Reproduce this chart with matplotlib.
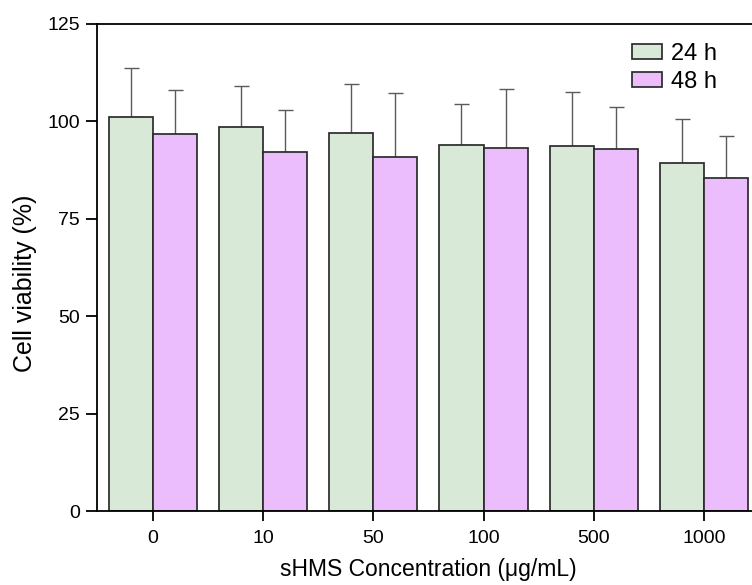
import matplotlib
matplotlib.use("Agg")
import matplotlib.pyplot as plt
import numpy as np

plt.rcParams['font.family'] = ['Liberation Sans', 'DejaVu Sans']

categories = ["0", "10", "50", "100", "500", "1000"]
series_names = ["24 h", "48 h"]
mean_24h = [101.2, 98.6, 97.1, 94.0, 93.8, 89.4]
err_24h = [12.6, 10.5, 12.5, 10.4, 13.8, 11.2]
mean_48h = [96.8, 92.1, 90.9, 93.2, 92.8, 85.6]
err_48h = [11.3, 10.9, 16.5, 15.0, 10.9, 10.6]
y_ticks = [0, 25, 50, 75, 100, 125]

colors = ["#d9e9d7", "#ecbdfd"]
edge = "#2b2b2b"
errc = "#5a5a5a"

fig = plt.figure(figsize=(7.52, 5.85), dpi=100)
ax = fig.add_axes([97.5 / 752, 74 / 585, 661.8 / 752, 487 / 585])

x = np.arange(len(categories))
w = 0.4
for i, (m, e) in enumerate([(mean_24h, err_24h), (mean_48h, err_48h)]):
    pos = x - w / 2 + i * w
    ax.bar(pos, m, width=w, color=colors[i], edgecolor=edge, linewidth=1.25,
           label=series_names[i], zorder=2)
    ax.errorbar(pos, m, yerr=[np.zeros(len(e)), e], fmt='none', ecolor=errc,
                elinewidth=1.0, capsize=5.4, capthick=1.0, zorder=1)

ax.set_xlim(-0.5, len(categories) - 0.5)
ax.set_ylim(0, 125)
ax.set_yticks(y_ticks)
ax.set_xticks(x)
ax.set_xticklabels(categories)
ax.tick_params(axis='both', direction='out', labelsize=14, width=1.3, color='black')
ax.tick_params(axis='y', length=8, pad=4.5)
ax.tick_params(axis='x', length=7.5, pad=6)
for s in ['left', 'bottom', 'top']:
    ax.spines[s].set_linewidth(1.3)
    ax.spines[s].set_color('black')
ax.spines['right'].set_visible(False)

ax.set_xlabel("sHMS Concentration (μg/mL)", fontsize=16.5, labelpad=8)
ax.set_ylabel("Cell viability (%)", fontsize=18, va='center')
ax.yaxis.set_label_coords(-0.1095, 0.467)

leg = ax.legend(loc='upper left', bbox_to_anchor=(0.8077, 0.962), frameon=False,
                fontsize=17, handlelength=1.27, handleheight=0.6, handletextpad=0.38,
                labelspacing=0.27, borderpad=0, borderaxespad=0)
for h in leg.legend_handles:
    h.set_linewidth(1.25)

fig.savefig("out.png", dpi=100)
